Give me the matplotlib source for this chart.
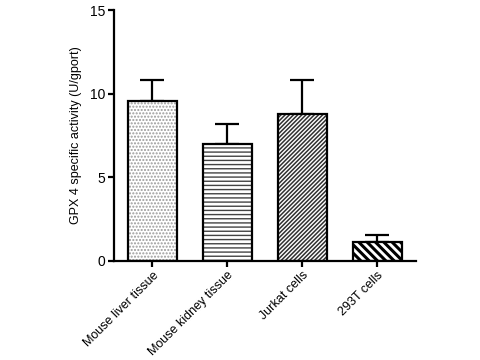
import matplotlib
matplotlib.use("Agg")
import matplotlib.pyplot as plt
import numpy as np

categories = ["Mouse liver tissue", "Mouse kidney tissue", "Jurkat cells", "293T cells"]
values = [9.55, 7.0, 8.8, 1.13]
errors = [1.27, 1.2, 2.02, 0.45]
hatches = [".....", "----", "////////", "\\\\\\\\"]
hatch_colors = ["#9a9a9a", "#444444", "#303030", "black"]
hatch_widths = [1.0, 1.0, 1.1, 2.2]

plt.rcParams['font.family'] = ['Liberation Sans', 'DejaVu Sans']

fig = plt.figure(figsize=(4.8, 3.6), dpi=100)
ax = fig.add_axes([0.2375, 0.275, 0.63, 0.697])

x = np.arange(len(categories))
for i in range(len(categories)):
    with plt.rc_context({'hatch.linewidth': hatch_widths[i]}):
        ax.bar(x[i], values[i], width=0.66, color='white', edgecolor=hatch_colors[i],
               hatch=hatches[i], linewidth=0, zorder=2)
    ax.bar(x[i], values[i], width=0.66, fill=False, edgecolor='black', linewidth=1.6, zorder=3)
    ax.errorbar(x[i], values[i], yerr=[[0], [errors[i]]], fmt='none', ecolor='black',
                elinewidth=1.6, capsize=8.5, capthick=1.6, zorder=1)

ax.set_ylim(0, 15)
ax.set_xlim(-0.51, 3.52)
ax.set_yticks([0, 5, 10, 15])
ax.set_xticks(x)
ax.set_xticklabels(categories, rotation=45, ha='right', va='top', rotation_mode='anchor', fontsize=9)
ax.tick_params(axis='y', labelsize=10, width=1.6, length=4, direction='out', pad=2)
ax.tick_params(axis='x', width=1.6, length=4, direction='out', pad=2)
ax.spines['top'].set_visible(False)
ax.spines['right'].set_visible(False)
ax.spines['left'].set_linewidth(1.6)
ax.spines['bottom'].set_linewidth(1.6)
ax.set_ylabel("GPX 4 specific activity (U/gport)", fontsize=9, labelpad=6)

fig.savefig("out.png", dpi=100)
